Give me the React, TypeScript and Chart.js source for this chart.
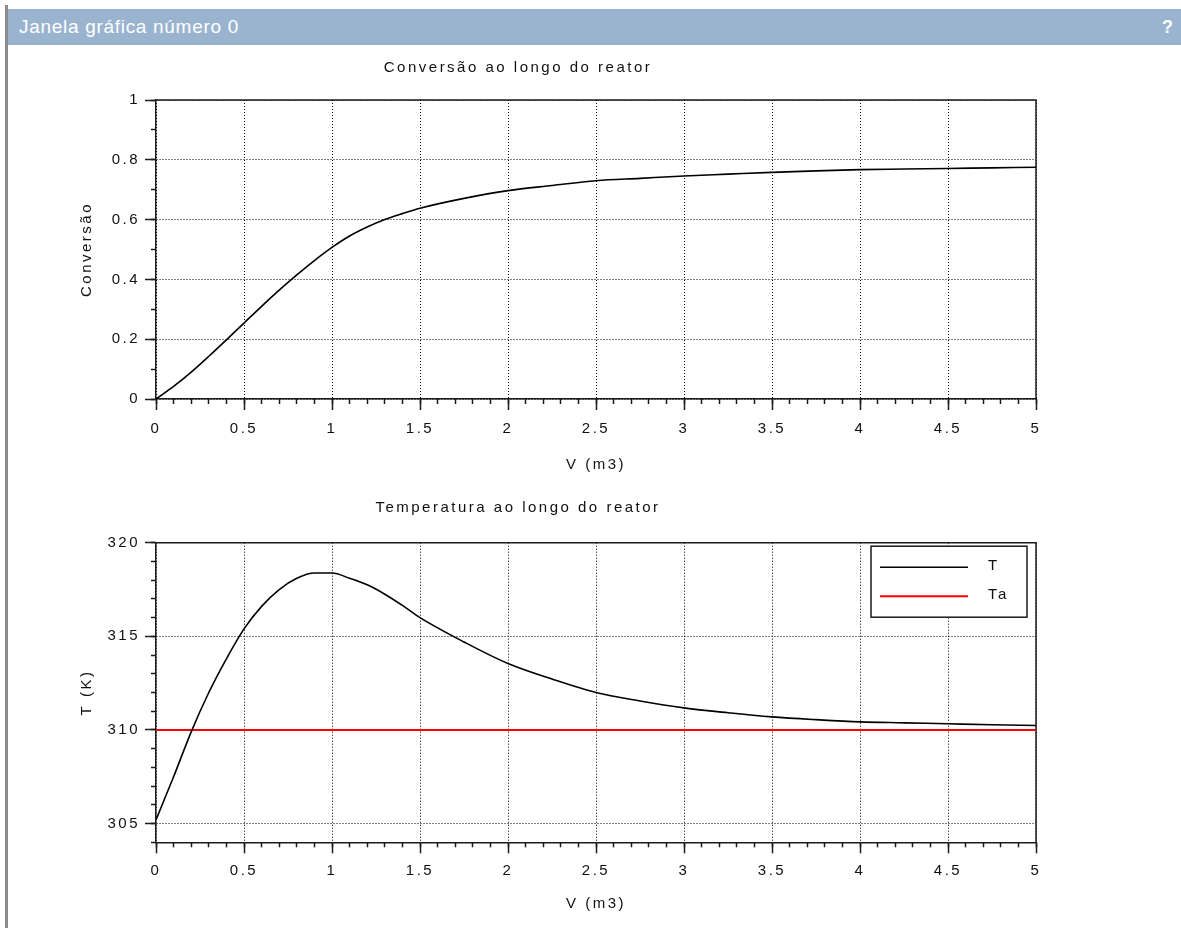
import React, { useEffect, useRef } from 'react';
import { Chart, registerables } from 'chart.js';

Chart.register(...registerables);

// ---- data ----
const volume = [0, 0.1, 0.2, 0.3, 0.4, 0.5, 0.6, 0.7, 0.8, 0.9, 1.0, 1.1, 1.2, 1.3, 1.4, 1.5, 1.75, 2.0, 2.25, 2.5, 2.75, 3.0, 3.25, 3.5, 3.75, 4.0, 4.25, 4.5, 4.75, 5.0];
const conversion = [0, 0.042, 0.09, 0.143, 0.198, 0.254, 0.31, 0.364, 0.415, 0.463, 0.507, 0.545, 0.575, 0.6, 0.62, 0.638, 0.671, 0.697, 0.714, 0.73, 0.738, 0.746, 0.752, 0.758, 0.763, 0.767, 0.769, 0.771, 0.773, 0.775];
const temperature = [305.2, 307.5, 309.9, 312.0, 313.8, 315.4, 316.6, 317.5, 318.1, 318.38, 318.38, 318.1, 317.75, 317.25, 316.65, 316.0, 314.7, 313.55, 312.72, 312.0, 311.55, 311.18, 310.92, 310.7, 310.55, 310.43, 310.38, 310.33, 310.28, 310.24];
const ambientVolume = [0, 5];
const ambientTemperature = [310, 310];

const volumeTicks = [0, 0.5, 1, 1.5, 2, 2.5, 3, 3.5, 4, 4.5, 5];
const conversionTicks = [0, 0.2, 0.4, 0.6, 0.8, 1];
const temperatureTicks = [305, 310, 315, 320];

const FONT = "'Liberation Sans', Arial, sans-serif";
const TEXT = '#111111';
const AXIS = '#1b1b1b';
const SPACING = '2.5px';

Chart.defaults.font.family = FONT;
Chart.defaults.font.size = 15;
Chart.defaults.color = TEXT;

const spacingPlugin = {
  id: 'letterSpacing',
  beforeDraw(chart: any) {
    chart.ctx.letterSpacing = SPACING;
  },
};

const framePlugin = {
  id: 'frame',
  beforeDatasetsDraw(chart: any) {
    const { ctx, chartArea: a } = chart;
    ctx.save();
    ctx.strokeStyle = AXIS;
    ctx.lineWidth = 1.5;
    ctx.beginPath();
    ctx.moveTo(a.left, a.top);
    ctx.lineTo(a.right, a.top);
    ctx.lineTo(a.right, a.bottom);
    ctx.stroke();
    ctx.restore();
  },
};

const boxLegendPlugin = {
  id: 'boxLegend',
  afterDraw(chart: any, _args: any, opts: any) {
    if (!opts || !opts.display) return;
    const { ctx, chartArea: a } = chart;
    const left = a.right - opts.right - opts.width;
    const top = a.top + opts.top;
    ctx.save();
    ctx.letterSpacing = SPACING;
    ctx.fillStyle = '#ffffff';
    ctx.fillRect(left, top, opts.width, opts.height);
    ctx.strokeStyle = AXIS;
    ctx.lineWidth = 1.5;
    ctx.strokeRect(left, top, opts.width, opts.height);
    ctx.font = `15px ${FONT}`;
    ctx.textBaseline = 'middle';
    ctx.textAlign = 'left';
    chart.data.datasets.forEach((ds: any, i: number) => {
      const y = top + opts.firstRow + i * opts.rowHeight;
      ctx.strokeStyle = ds.borderColor;
      ctx.lineWidth = ds.borderWidth;
      ctx.beginPath();
      ctx.moveTo(left + opts.sampleStart, y);
      ctx.lineTo(left + opts.sampleEnd, y);
      ctx.stroke();
      ctx.fillStyle = TEXT;
      ctx.fillText(ds.label, left + opts.textX, y - 1);
    });
    ctx.restore();
  },
};

type Setup = {
  title: string;
  titleTop: number;
  titleBottom: number;
  xHeight: number;
  xTickPad: number;
  xTitlePad: number;
  yTitle: string;
  yMin: number;
  yMax: number;
  yTicks: number[];
  yMinorStep: number;
  datasets: any[];
  legend: boolean;
};

const plainLabel = (value: any) => `${value}`;

function buildConfig(s: Setup): any {
  return {
    type: 'line',
    data: { datasets: s.datasets },
    plugins: [spacingPlugin, framePlugin, boxLegendPlugin],
    options: {
      responsive: false,
      animation: false,
      events: [],
      layout: { padding: { left: 0, right: 145, top: 0, bottom: 0 } },
      elements: { point: { radius: 0 } },
      plugins: {
        legend: { display: false },
        tooltip: { enabled: false },
        title: {
          display: true,
          text: s.title,
          color: TEXT,
          font: { size: 15, weight: 'normal', lineHeight: 1 },
          padding: { top: s.titleTop, bottom: s.titleBottom },
        },
        boxLegend: {
          display: s.legend,
          width: 156,
          height: 71,
          right: 9,
          top: 3.5,
          firstRow: 21,
          rowHeight: 29,
          sampleStart: 9,
          sampleEnd: 97,
          textX: 117,
        },
      },
      scales: {
        x: {
          type: 'linear',
          position: 'bottom',
          min: 0,
          max: 5,
          weight: 0,
          afterBuildTicks: (sc: any) => {
            sc.ticks = volumeTicks.map((value) => ({ value }));
          },
          afterFit: (sc: any) => {
            sc.height = s.xHeight;
          },
          grid: { color: '#000', lineWidth: 1, tickLength: 11, tickWidth: 1.5, tickColor: AXIS },
          border: { display: true, color: AXIS, width: 1.5, dash: [1, 2] },
          ticks: {
            padding: s.xTickPad,
            color: TEXT,
            font: { size: 15 },
            maxRotation: 0,
            autoSkip: false,
            callback: plainLabel,
          },
          title: {
            display: true,
            text: 'V (m3)',
            color: TEXT,
            font: { size: 15 },
            padding: { top: 0, bottom: s.xTitlePad },
          },
        },
        xMinor: {
          type: 'linear',
          position: 'bottom',
          min: 0,
          max: 5,
          weight: -10,
          afterFit: (sc: any) => {
            sc.height = 0;
          },
          ticks: { display: false, stepSize: 0.1 },
          grid: { drawOnChartArea: false, drawTicks: true, tickLength: 5, tickWidth: 1.5, tickColor: AXIS },
          border: { display: false },
        },
        y: {
          type: 'linear',
          position: 'left',
          min: s.yMin,
          max: s.yMax,
          weight: 0,
          afterBuildTicks: (sc: any) => {
            sc.ticks = s.yTicks.map((value) => ({ value }));
          },
          afterFit: (sc: any) => {
            sc.width = 156;
          },
          grid: { color: '#000', lineWidth: 1, tickLength: 11, tickWidth: 1.5, tickColor: AXIS },
          border: { display: true, color: AXIS, width: 1.5, dash: [1, 2] },
          ticks: { padding: 5, color: TEXT, font: { size: 15 }, autoSkip: false, callback: plainLabel },
          title: {
            display: true,
            text: s.yTitle,
            color: TEXT,
            font: { size: 15 },
            padding: { top: 78, bottom: 0 },
          },
        },
        yMinor: {
          type: 'linear',
          position: 'left',
          min: s.yMin,
          max: s.yMax,
          weight: -10,
          afterFit: (sc: any) => {
            sc.width = 0;
          },
          ticks: { display: false, stepSize: s.yMinorStep },
          grid: { drawOnChartArea: false, drawTicks: true, tickLength: 5, tickWidth: 1.5, tickColor: AXIS },
          border: { display: false },
        },
      },
    },
  };
}

const points = (xs: number[], ys: number[]) => xs.map((x, i) => ({ x, y: ys[i] }));

function PlotCanvas({ setup, top, height }: { setup: Setup; top: number; height: number }) {
  const ref = useRef<HTMLCanvasElement | null>(null);
  useEffect(() => {
    if (!ref.current) return;
    const chart = new Chart(ref.current, buildConfig(setup));
    return () => chart.destroy();
  }, []);
  return (
    <canvas
      ref={ref}
      width={1181}
      height={height}
      style={{ position: 'absolute', left: 0, top, width: 1181, height }}
    />
  );
}

const conversionSetup: Setup = {
  title: 'Conversão ao longo do reator',
  titleTop: 10,
  titleBottom: 25,
  xHeight: 91,
  xTickPad: 9.7,
  xTitlePad: 16,
  yTitle: 'Conversão',
  yMin: 0,
  yMax: 1,
  yTicks: conversionTicks,
  yMinorStep: 0.1,
  legend: false,
  datasets: [
    {
      label: 'X',
      data: points(volume, conversion),
      borderColor: '#000000',
      borderWidth: 1.6,
      cubicInterpolationMode: 'monotone',
      xAxisID: 'x',
      yAxisID: 'y',
    },
  ],
};

const temperatureSetup: Setup = {
  title: 'Temperatura ao longo do reator',
  titleTop: 10.5,
  titleBottom: 27.2,
  xHeight: 85.7,
  xTickPad: 8.7,
  xTitlePad: 15,
  yTitle: 'T (K)',
  yMin: 304,
  yMax: 320,
  yTicks: temperatureTicks,
  yMinorStep: 1,
  legend: true,
  datasets: [
    {
      label: 'T',
      data: points(volume, temperature),
      borderColor: '#000000',
      borderWidth: 1.6,
      cubicInterpolationMode: 'monotone',
      xAxisID: 'x',
      yAxisID: 'y',
    },
    {
      label: 'Ta',
      data: points(ambientVolume, ambientTemperature),
      borderColor: '#ff0000',
      borderWidth: 2,
      xAxisID: 'x',
      yAxisID: 'y',
    },
  ],
};

export default function App() {
  return (
    <div
      style={{
        position: 'absolute',
        left: 0,
        top: 0,
        width: 1181,
        height: 928,
        overflow: 'hidden',
        background: '#ffffff',
      }}
    >
      <div style={{ position: 'absolute', left: 5, top: 5, width: 3, height: 923, background: '#8c8c8c' }} />
      <div
        style={{
          position: 'absolute',
          left: 8,
          top: 9,
          width: 1173,
          height: 36,
          background: '#9ab4d0',
          color: '#ffffff',
          fontFamily: FONT,
          lineHeight: '36px',
        }}
      >
        <span style={{ position: 'absolute', left: 11, top: 0, fontSize: 19, letterSpacing: '0.7px' }}>
          Janela gráfica número 0
        </span>
        <span style={{ position: 'absolute', right: 8, top: 0, fontSize: 18, fontWeight: 'bold' }}>?</span>
      </div>
      <PlotCanvas setup={conversionSetup} top={50} height={440} />
      <PlotCanvas setup={temperatureSetup} top={490} height={438} />
    </div>
  );
}
